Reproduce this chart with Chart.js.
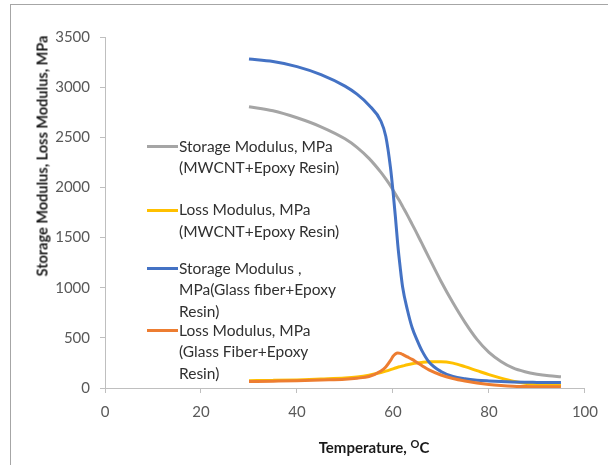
<!DOCTYPE html>
<html>
<head>
<meta charset="utf-8">
<script src="https://cdn.jsdelivr.net/npm/chart.js@4/dist/chart.umd.min.js"></script>
<style>
  html, body { margin: 0; padding: 0; background: #fff; overflow: hidden; }
  body { width: 608px; height: 465px; position: relative; font-family: Lato, "Open Sans", sans-serif; }
  #frame { position: absolute; left: 10px; top: 4px; width: 800px; height: 800px; border: 1px solid #a6a6a6; box-sizing: border-box; }
  #wrap { position: absolute; left: 0; top: 0; width: 608px; height: 465px; }
  .ytitle { position: absolute; left: 41.5px; top: 156px; transform: translate(-50%, -50%) rotate(-90deg); white-space: nowrap; font-weight: bold; font-size: 14.5px; color: #1a1a1a; }
  .xtitle { position: absolute; left: 374px; top: 447px; transform: translate(-50%, -50%); white-space: nowrap; font-weight: bold; font-size: 15px; color: #1a1a1a; }
  .xtitle sup { font-size: 11px; vertical-align: 5px; line-height: 0; }
  .leg { position: absolute; left: 179px; font-size: 15.5px; color: #303030; line-height: 21.6px; white-space: nowrap; }
  .sw { position: absolute; left: 147px; width: 31px; height: 3px; }
</style>
</head>
<body>
<div id="frame"></div>
<div id="wrap"><canvas id="c" width="608" height="465"></canvas></div>
<div class="ytitle">Storage Modulus, Loss Modulus, MPa</div>
<div class="xtitle">Temperature, <sup>O</sup>C</div>

<script>
// ---- data ----
const temperature = [30, 35, 40, 45, 50, 52.5, 55, 57.5, 58.5, 59.5, 60, 60.5, 61, 61.5, 62, 63, 64, 65, 66, 67.5, 70, 72.5, 75, 77.5, 80, 82.5, 85, 87.5, 90, 92.5, 95];
const storageMWCNT = [2805, 2765, 2695, 2605, 2485, 2400, 2290, 2150, 2085, 2015, 1975, 1935, 1895, 1855, 1811, 1724, 1632, 1540, 1444, 1300, 1065, 850, 655, 485, 355, 265, 200, 162, 138, 122, 112];
const lossMWCNT    = [73, 76, 81, 90, 100, 110, 128, 155, 168, 183, 191, 199, 207, 213, 219, 231, 241, 249, 255, 261, 262, 248, 213, 173, 133, 98, 68, 48, 36, 30, 27];
const storageGlass = [3280, 3255, 3205, 3125, 3010, 2930, 2820, 2660, 2510, 2190, 1965, 1710, 1430, 1205, 1010, 780, 600, 480, 375, 260, 165, 115, 92, 78, 70, 64, 60, 57, 56, 55, 55];
const lossGlass    = [65, 68, 72, 80, 88, 98, 115, 170, 210, 275, 315, 340, 348, 345, 335, 310, 285, 255, 225, 180, 130, 95, 70, 50, 35, 25, 18, 15, 13, 12, 12];
const seriesNames = [
  "Storage Modulus, MPa (MWCNT+Epoxy Resin)",
  "Loss Modulus, MPa (MWCNT+Epoxy Resin)",
  "Storage Modulus , MPa(Glass fiber+Epoxy Resin)",
  "Loss Modulus, MPa (Glass Fiber+Epoxy Resin)"
];
const xTickValues = [0, 20, 40, 60, 80, 100];
const yTickValues = [0, 500, 1000, 1500, 2000, 2500, 3000, 3500];

const colors = ["#a5a5a5", "#ffc000", "#4472c4", "#ed7d31"];
const drawOrder = [4, 3, 2, 1];
const seriesValues = [storageMWCNT, lossMWCNT, storageGlass, lossGlass];

const datasets = seriesValues.map((vals, k) => ({
  label: seriesNames[k],
  data: temperature.map((t, i) => ({ x: t, y: vals[i] })),
  borderColor: colors[k],
  backgroundColor: colors[k],
  borderWidth: 3,
  pointRadius: 0,
  showLine: true,
  fill: false,
  cubicInterpolationMode: 'monotone',
  order: drawOrder[k]
}));

new Chart(document.getElementById('c'), {
  type: 'scatter',
  data: { datasets },
  options: {
    responsive: false,
    animation: false,
    devicePixelRatio: 1,
    layout: { padding: { left: 0, right: 15, top: 37, bottom: 0 } },
    plugins: { legend: { display: false }, tooltip: { enabled: false } },
    scales: {
      x: {
        type: 'linear', min: 0, max: 100,
        afterBuildTicks: s => { s.ticks = xTickValues.map(v => ({ value: v })); },
        afterFit: s => { s.height = 77; },
        grid: { drawOnChartArea: false, drawTicks: true, tickLength: 5, color: '#bfbfbf' },
        border: { display: true, color: '#bfbfbf', width: 1 },
        ticks: { padding: 10, color: '#595959', font: { family: 'Lato', size: 15 }, callback: v => String(v) }
      },
      y: {
        type: 'linear', min: 0, max: 3500,
        afterBuildTicks: s => { s.ticks = yTickValues.map(v => ({ value: v })); },
        afterFit: s => { s.width = 105; },
        grid: { drawOnChartArea: false, drawTicks: true, tickLength: 5, color: '#bfbfbf' },
        border: { display: true, color: '#bfbfbf', width: 1 },
        ticks: { padding: 10, color: '#595959', font: { family: 'Lato', size: 15 }, callback: v => String(v) }
      }
    }
  }
});

// ---- legend (text) ----
const legendLines = [
  ["Storage Modulus, MPa", "(MWCNT+Epoxy Resin)"],
  ["Loss Modulus, MPa", "(MWCNT+Epoxy Resin)"],
  ["Storage Modulus ,", "MPa(Glass fiber+Epoxy", "Resin)"],
  ["Loss Modulus, MPa", "(Glass Fiber+Epoxy", "Resin)"]
];
const legendTops = [146.7, 210, 268.3, 330.7];
legendLines.forEach((lines, k) => {
  const d = document.createElement('div');
  d.className = 'leg';
  d.style.top = (legendTops[k] - 10.8) + 'px';
  d.innerHTML = lines.join('<br>');
  document.body.appendChild(d);
  const s = document.createElement('div');
  s.className = 'sw';
  s.style.top = (legendTops[k] - 1.5) + 'px';
  s.style.background = colors[k];
  document.body.appendChild(s);
});
</script>
</body>
</html>
